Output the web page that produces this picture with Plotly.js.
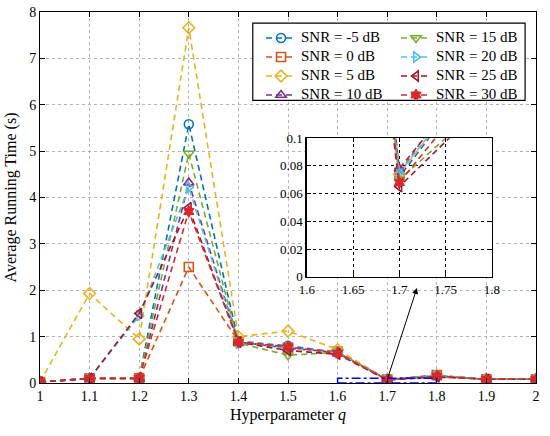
<!DOCTYPE html>
<html>
<head>
<meta charset="utf-8">
<script src="https://cdn.plot.ly/plotly-3.0.1.min.js"></script>
<style>html,body{margin:0;padding:0;background:#fff;}#chart{width:550px;height:436px;}</style>
</head>
<body>
<div id="chart"></div>
<script>
// Data
var q = [1, 1.1, 1.2, 1.3, 1.4, 1.5, 1.6, 1.7, 1.8, 1.9, 2];
var snrM5 = [0.02, 0.10, 0.10, 5.58, 0.90, 0.80, 0.66, 0.072, 0.16, 0.08, 0.08];
var snr0  = [0.02, 0.10, 0.10, 2.50, 0.90, 0.76, 0.68, 0.075, 0.17, 0.08, 0.08];
var snr5  = [0.02, 1.93, 0.95, 7.66, 1.00, 1.12, 0.72, 0.074, 0.16, 0.08, 0.08];
var snr10 = [0.02, 0.10, 0.10, 4.32, 0.88, 0.75, 0.66, 0.078, 0.16, 0.08, 0.08];
var snr15 = [0.02, 0.10, 0.10, 4.95, 0.86, 0.60, 0.66, 0.070, 0.13, 0.08, 0.08];
var snr20 = [0.02, 0.10, 1.45, 4.22, 0.86, 0.76, 0.65, 0.075, 0.16, 0.08, 0.08];
var snr25 = [0.02, 0.10, 1.50, 3.78, 0.88, 0.70, 0.62, 0.065, 0.13, 0.08, 0.08];
var snr30 = [0.02, 0.10, 0.10, 3.70, 0.88, 0.78, 0.64, 0.068, 0.15, 0.08, 0.08];

var seriesNames = ['SNR = -5 dB','SNR = 0 dB','SNR = 5 dB','SNR = 10 dB','SNR = 15 dB','SNR = 20 dB','SNR = 25 dB','SNR = 30 dB'];
var seriesData = [snrM5, snr0, snr5, snr10, snr15, snr20, snr25, snr30];
var colors = ['#0072BD','#D95319','#EDB120','#7E2F8E','#77AC30','#4DBEEE','#A2142F','#D7292B'];
var symbols = ['circle-open','square-open','diamond-open','triangle-up-open','triangle-down-open','triangle-right-open','triangle-left-open','hexagram'];

var FONT = 'Liberation Serif, Times New Roman, serif';
function mk(i, xa, ya, legendOn) {
  var filled = symbols[i].indexOf('open') < 0;
  return {
    x: q, y: seriesData[i], type: 'scatter', mode: 'lines+markers',
    name: '<span style="font-size:15px">' + seriesNames[i] + '</span>',
    xaxis: xa, yaxis: ya, showlegend: legendOn,
    legend: i < 4 ? 'legend' : 'legend2',
    line: {color: colors[i], width: 1.6, dash: '6px,4px'},
    marker: {symbol: symbols[i], size: 9, color: colors[i], line: {color: colors[i], width: filled ? 1 : 1.6}}
  };
}
var traces = [];
for (var i = 0; i < seriesData.length; i++) traces.push(mk(i, 'x', 'y', true));
for (var j = 0; j < seriesData.length; j++) traces.push(mk(j, 'x2', 'y2', false));

var layout = {
  width: 550, height: 436,
  margin: {l: 40, r: 14, t: 12, b: 53},
  paper_bgcolor: '#fff', plot_bgcolor: '#fff',
  font: {family: FONT, size: 14, color: '#000'},
  showlegend: true,
  xaxis: {
    domain: [0, 1], range: [1, 2], dtick: 0.1, tick0: 1,
    showline: true, mirror: 'ticks', linecolor: '#000', linewidth: 1,
    ticks: 'inside', ticklen: 5, tickcolor: '#000',
    showgrid: true, gridcolor: '#b4b4b4', griddash: 'dot', gridwidth: 1, zeroline: false,
    tickfont: {family: FONT, size: 14},
    title: {text: 'Hyperparameter <i>q</i>', font: {family: FONT, size: 16}, standoff: 6}
  },
  yaxis: {
    domain: [0, 1], range: [0, 8], dtick: 1,
    showline: true, mirror: 'ticks', linecolor: '#000', linewidth: 1,
    ticks: 'inside', ticklen: 5, tickcolor: '#000',
    showgrid: true, gridcolor: '#b4b4b4', griddash: 'dot', gridwidth: 1, zeroline: false,
    tickfont: {family: FONT, size: 14},
    title: {text: 'Average Running Time (s)', font: {family: FONT, size: 16}, standoff: 8}
  },
  xaxis2: {
    domain: [0.538, 0.911], anchor: 'y2', range: [1.6, 1.8], dtick: 0.05, tick0: 1.6,
    showline: true, mirror: 'ticks', linecolor: '#000', linewidth: 1.5,
    ticks: 'inside', ticklen: 4, tickcolor: '#000',
    showgrid: true, gridcolor: '#000', griddash: 'dot', gridwidth: 1, zeroline: false,
    tickfont: {family: FONT, size: 13}
  },
  yaxis2: {
    domain: [0.286, 0.660], anchor: 'x2', range: [0, 0.1], dtick: 0.02,
    showline: true, mirror: 'ticks', linecolor: '#000', linewidth: 1.5,
    ticks: 'inside', ticklen: 4, tickcolor: '#000',
    showgrid: true, gridcolor: '#000', griddash: 'dot', gridwidth: 1, zeroline: false,
    tickfont: {family: FONT, size: 13}
  },
  legend: {
    x: 0.4456, y: 0.969, xanchor: 'left', yanchor: 'top',
    bgcolor: 'rgba(0,0,0,0)', borderwidth: 0,
    font: {family: FONT, size: 11}, tracegroupgap: 0
  },
  legend2: {
    x: 0.7178, y: 0.969, xanchor: 'left', yanchor: 'top',
    bgcolor: 'rgba(0,0,0,0)', borderwidth: 0,
    font: {family: FONT, size: 11}, tracegroupgap: 0
  },
  shapes: [
    {type: 'rect', xref: 'paper', yref: 'paper', x0: 0.429, x1: 0.978, y0: 0.762, y1: 0.970,
     line: {color: '#000', width: 1.2}, fillcolor: '#fff', layer: 'above'},
    {type: 'rect', xref: 'x', yref: 'y', x0: 1.6, x1: 1.8, y0: 0, y1: 0.1,
     line: {color: '#0000ff', width: 1.5, dash: 'dashdot'}, fillcolor: 'rgba(0,0,0,0)', layer: 'above'}
  ],
  annotations: [
    {xref: 'x', yref: 'y', x: 1.76, y: 2.05, axref: 'x', ayref: 'y', ax: 1.7, ay: 0.07,
     text: '', showarrow: true, arrowhead: 2, arrowsize: 1.2, arrowwidth: 1, arrowcolor: '#000', standoff: 0}
  ]
};

Plotly.newPlot('chart', traces, layout, {displayModeBar: false, staticPlot: true});
</script>
</body>
</html>
